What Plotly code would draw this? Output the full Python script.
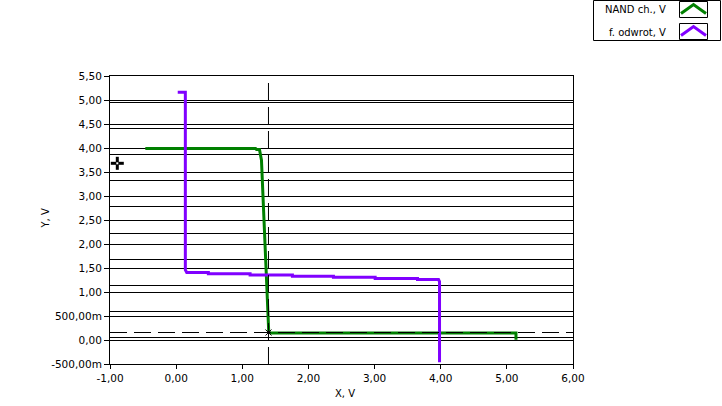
import plotly.graph_objects as go

# ---- data ----
nand_x = [-0.466, 1.20, 1.215, 1.255, 1.26, 1.29, 1.305, 1.32, 1.335, 1.35, 1.365, 1.38, 1.395, 1.40, 1.43, 5.138, 5.138]
nand_y = [3.99, 3.99, 3.97, 3.97, 3.97, 3.746, 3.264, 2.778, 2.308, 1.821, 1.358, 0.873, 0.387, 0.166, 0.146, 0.146, 0.006]

odw_x = [0.024, 0.139, 0.139, 0.160, 0.487, 0.487, 1.118, 1.118, 1.758, 1.758, 2.378, 2.378, 3.009, 3.009, 3.649, 3.649, 3.967, 3.982, 3.982]
odw_y = [5.162, 5.162, 1.46, 1.405, 1.405, 1.38, 1.38, 1.355, 1.355, 1.33, 1.33, 1.305, 1.305, 1.28, 1.28, 1.26, 1.26, 1.218, -0.466]

x_ticks = [-1, 0, 1, 2, 3, 4, 5, 6]
x_labels = ["-1,00", "0,00", "1,00", "2,00", "3,00", "4,00", "5,00", "6,00"]
y_ticks = [-0.5, 0, 0.5, 1, 1.5, 2, 2.5, 3, 3.5, 4, 4.5, 5, 5.5]
y_labels = ["-500,00m", "0,00", "500,00m", "1,00", "1,50", "2,00", "2,50",
            "3,00", "3,50", "4,00", "4,50", "5,00", "5,50"]
second_grid = [0.042, 0.603, 1.143, 1.684, 2.225, 2.786, 3.326, 3.867, 4.407, 4.955]

cursor_x = 1.396
cursor_y = 0.156

names = ["NAND ch., V", "f. odwrot, V"]
colors = ["#008000", "#8000FF"]

W, H = 722, 406
ML, MR, MT, MB = 110, 149, 76, 42
PW, PH = W - ML - MR, H - MT - MB
FONT = "DejaVu Sans"


def px(xp):
    return (xp - ML) / PW


def py(yp):
    return (H - MB - yp) / PH


fig = go.Figure()
fig.add_trace(go.Scatter(x=nand_x, y=nand_y, mode="lines", name=names[0],
                         line=dict(color=colors[0], width=3)))
fig.add_trace(go.Scatter(x=odw_x, y=odw_y, mode="lines", name=names[1],
                         line=dict(color=colors[1], width=3)))
fig.add_trace(go.Scatter(x=[cursor_x], y=[cursor_y], mode="markers", showlegend=False,
                         marker=dict(symbol="x-thin", size=6, line=dict(color="black", width=1))))

shapes = []
# cursor lines
shapes.append(dict(type="line", xref="x", yref="paper", x0=cursor_x, x1=cursor_x, y0=0, y1=1,
                   line=dict(color="black", width=1, dash="17px,7px"), layer="above"))
shapes.append(dict(type="line", xref="paper", yref="y", x0=0, x1=1, y0=cursor_y, y1=cursor_y,
                   line=dict(color="black", width=1, dash="17px,7px"), layer="above"))

# mouse cursor icon
cx, cy = 117.3, 163.3
shapes.append(dict(type="rect", xref="paper", yref="paper", x0=px(cx - 1.5), x1=px(cx + 1.5),
                   y0=py(cy + 6.5), y1=py(cy - 6.5), fillcolor="black", line=dict(width=0), layer="above"))
shapes.append(dict(type="rect", xref="paper", yref="paper", x0=px(cx - 6.5), x1=px(cx + 6.5),
                   y0=py(cy + 1.5), y1=py(cy - 1.5), fillcolor="black", line=dict(width=0), layer="above"))
shapes.append(dict(type="rect", xref="paper", yref="paper", x0=px(cx - 1), x1=px(cx + 1),
                   y0=py(cy + 1), y1=py(cy - 1), fillcolor="white", line=dict(width=0), layer="above"))

# legend box
shapes.append(dict(type="rect", xref="paper", yref="paper", x0=px(593.5), x1=px(720.5),
                   y0=py(40.5), y1=py(0.5), line=dict(color="black", width=1), fillcolor="white"))
annotations = []
for i, (name, col) in enumerate(zip(names, colors)):
    top = 1.5 + i * 22
    shapes.append(dict(type="rect", xref="paper", yref="paper", x0=px(679.5), x1=px(707.5),
                       y0=py(top + 16), y1=py(top), line=dict(color="black", width=1)))
    path = "M {} {} L {} {} L {} {}".format(px(681), py(top + 12), px(693.5), py(top + 3),
                                            px(706), py(top + 12))
    shapes.append(dict(type="path", xref="paper", yref="paper", path=path,
                       line=dict(color=col, width=3)))
    annotations.append(dict(xref="paper", yref="paper", x=px(668), y=py(top + 8.5), text=name,
                            showarrow=False, xanchor="right", yanchor="middle",
                            font=dict(family=FONT, size=10, color="black")))

# axis titles
annotations.append(dict(xref="paper", yref="paper", x=px(345), y=py(393), text="X, V",
                        showarrow=False, xanchor="center", yanchor="middle",
                        font=dict(family=FONT, size=10, color="black")))
annotations.append(dict(xref="paper", yref="paper", x=px(44.5), y=py(219), text="Y, V",
                        showarrow=False, xanchor="center", yanchor="middle", textangle=-90,
                        font=dict(family=FONT, size=10, color="black")))

fig.update_layout(
    width=W, height=H,
    margin=dict(l=ML, r=MR, t=MT, b=MB, pad=0),
    paper_bgcolor="white", plot_bgcolor="white",
    showlegend=False, hovermode=False,
    font=dict(family=FONT, size=10, color="black"),
    shapes=shapes, annotations=annotations,
    xaxis=dict(range=[-1, 6], tickmode="array", tickvals=x_ticks, ticktext=x_labels,
               showgrid=False, zeroline=False, showline=True, linecolor="black", linewidth=1,
               mirror=True, ticks="outside", ticklen=4, tickcolor="black", tickwidth=1,
               tickfont=dict(family=FONT, size=10.5, color="black")),
    yaxis=dict(range=[-0.5, 5.5], tickmode="array", tickvals=y_ticks, ticktext=y_labels,
               showgrid=True, gridcolor="black", gridwidth=1, zeroline=False,
               showline=True, linecolor="black", linewidth=1, mirror=True,
               ticks="outside", ticklen=5, tickcolor="black", tickwidth=1,
               tickfont=dict(family=FONT, size=10.5, color="black"),
               minor=dict(tickmode="array", tickvals=second_grid, showgrid=True,
                          gridcolor="black", gridwidth=1, ticks="")),
)

fig.write_html("out.html", config={"displayModeBar": False},
               post_script="document.body.style.margin='0';document.body.style.padding='0';")
